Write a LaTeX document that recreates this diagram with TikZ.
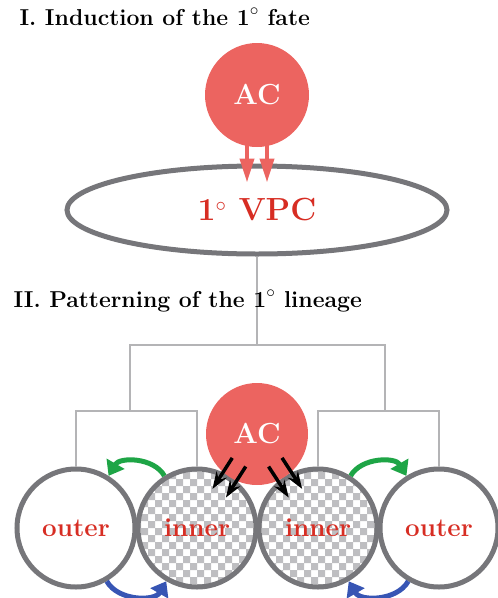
\documentclass[tikz,border=0pt]{standalone}
\usepackage{fontspec}
\usepackage{tikz}
\usetikzlibrary{shapes.geometric,arrows.meta,calc,backgrounds}

\definecolor{acred}{RGB}{236,100,96}
\definecolor{labred}{RGB}{215,45,35}
\definecolor{cellgray}{RGB}{118,118,122}
\definecolor{treegray}{RGB}{180,180,182}
\definecolor{checkgray}{RGB}{190,190,193}
\definecolor{wntgreen}{RGB}{30,165,70}
\definecolor{wntblue}{RGB}{55,85,180}

\newcommand{\titlefont}{\fontsize{23}{27}\selectfont\bfseries}

\tikzset{
  acell/.style={circle, fill=acred, inner sep=0pt, text=white,
    font=\fontsize{29}{29}\selectfont\bfseries},
  vcell/.style={circle, draw=cellgray, line width=5pt, minimum size=118pt,
    inner sep=0pt, text=labred, font=\fontsize{26}{26}\selectfont\bfseries},
  tree/.style={draw=treegray, line width=2pt},
  induce/.style={-{Triangle[length=24pt,width=14pt]}, line width=4pt, draw=acred},
  lateral/.style={-{Stealth[length=17pt,width=12pt]}, line width=3.5pt, draw=black},
  wntg/.style={-{Triangle[length=14pt,width=20pt]}, line width=5pt, draw=wntgreen},
  wntb/.style={-{Triangle[length=14pt,width=20pt]}, line width=5pt, draw=wntblue}
}

\begin{document}
\begin{tikzpicture}[x=1pt,y=-1pt]
\useasboundingbox (0,0) rectangle (498,598);

% I. induction
\node[anchor=base west, font=\titlefont] (titleI) at (16,25) {I. Induction of the 1$^\circ$ fate};
\node[acell, minimum size=104pt] (acTop) at (257,95) {AC};
\node[ellipse, draw=cellgray, line width=5pt, minimum width=380pt, minimum height=88pt,
  text=labred, font=\fontsize{32}{34}\selectfont\bfseries] (vpc) at (257,210) {1$^\circ$ VPC};
\draw[induce] ([xshift=-10pt,yshift=6pt]acTop.south) -- ([xshift=-10pt,yshift=-19pt]vpc.north);
\draw[induce] ([xshift=10pt,yshift=6pt]acTop.south) -- ([xshift=10pt,yshift=-19pt]vpc.north);

% II. patterning
\node[vcell] (outL) at (76,528) {outer};
\node[vcell] (inL) at (197,528) {inner};
\node[vcell] (inR) at (318,528) {inner};
\node[vcell] (outR) at (439,528) {outer};

\begin{scope}[on background layer]
\foreach \c in {inL,inR} {
  \begin{scope}
  \clip (\c.center) circle[radius=58pt];
  \foreach \i in {-5,...,4}
    \foreach \j in {-5,...,4}
      \fill[checkgray] ($(\c.center)+(\i*14,\j*14)$) rectangle ++(7,7)
        ($(\c.center)+(\i*14+7,\j*14+7)$) rectangle ++(7,7);
  \end{scope}
}
\end{scope}

\coordinate (split) at (257,345);
\coordinate (brL) at (130,411);
\coordinate (brR) at (385,411);
\draw[tree] (vpc.south) -- (split);
\draw[tree] (brL) |- (split) -| (brR);
\draw[tree] (outL.north) |- (brL) -| (inL.north);
\draw[tree] (inR.north) |- (brR) -| (outR.north);

\node[anchor=base west, font=\titlefont] (titleII) at (10,307) {II. Patterning of the 1$^\circ$ lineage};

\node[acell, minimum size=102pt] (acLow) at (257,434) {AC};

% lateral signal
\foreach \c in {inL,inR} {
  \draw[lateral] ($(acLow)!0.3!(\c)!8pt!90:(\c)$) -- ($(acLow)!0.63!(\c)!8pt!90:(\c)$);
  \draw[lateral] ($(acLow)!0.3!(\c)!8pt!-90:(\c)$) -- ($(acLow)!0.63!(\c)!8pt!-90:(\c)$);
}

% inner to outer, outer to inner
\draw[wntg] (inL.122) to[bend right=60] (outL.58);
\draw[wntg] (inR.58) to[bend left=60] (outR.122);
\draw[wntb] (outL.300) to[bend right=60] (inL.240);
\draw[wntb] (outR.240) to[bend left=60] (inR.300);
\end{tikzpicture}
\end{document}
